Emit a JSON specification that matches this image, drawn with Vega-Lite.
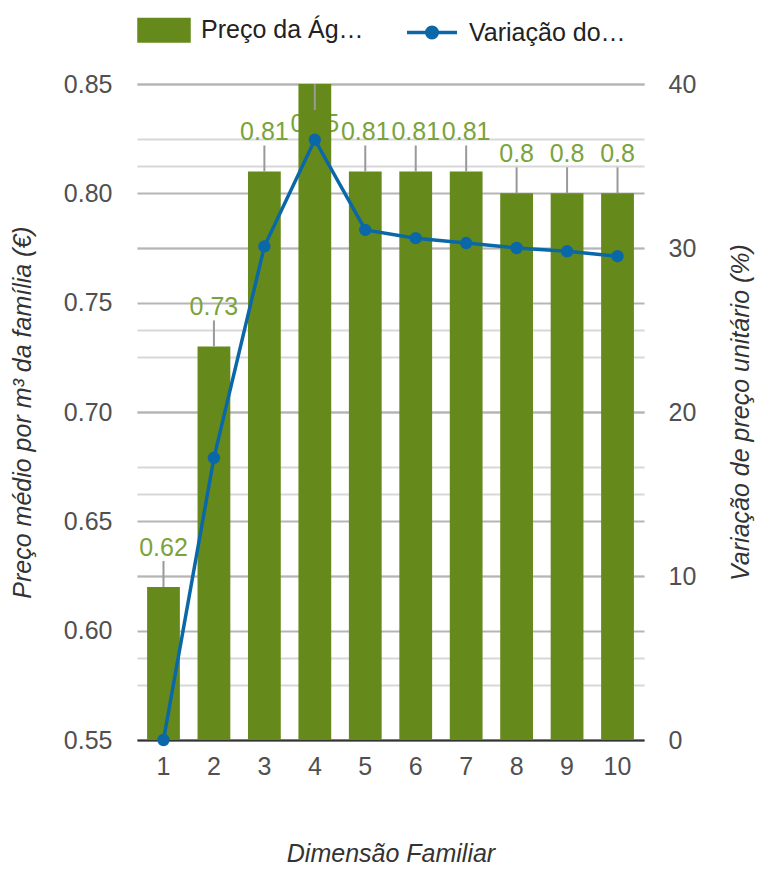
{
  "$schema": "https://vega.github.io/schema/vega-lite/v6.json",
  "width": 507,
  "height": 656,
  "autosize": "none",
  "padding": {"left": 137, "top": 84, "right": 119, "bottom": 132},
  "background": "white",
  "config": {
    "font": "Liberation Sans",
    "view": {"stroke": null},
    "axis": {
      "labelFont": "Liberation Sans",
      "labelFontSize": 25,
      "labelColor": "#505050",
      "titleFont": "Liberation Sans",
      "titleFontSize": 25,
      "titleFontStyle": "italic",
      "titleFontWeight": "normal",
      "titleColor": "#333333",
      "ticks": false,
      "domain": false
    },
    "legend": {
      "labelFont": "Liberation Sans",
      "labelFontSize": 25,
      "labelColor": "#222222",
      "labelLimit": 400,
      "orient": "top",
      "direction": "horizontal",
      "offset": 36,
      "padding": 0,
      "symbolSize": 2500,
      "symbolStrokeWidth": 3.5,
      "labelOffset": 10,
      "columnPadding": 36
    }
  },
  "data": {
    "values": [
      {"dim": "1", "price": 0.62, "var": 0},
      {"dim": "2", "price": 0.73, "var": 17.2},
      {"dim": "3", "price": 0.81, "var": 30.1},
      {"dim": "4", "price": 0.85, "var": 36.6},
      {"dim": "5", "price": 0.81, "var": 31.1},
      {"dim": "6", "price": 0.81, "var": 30.6},
      {"dim": "7", "price": 0.81, "var": 30.3},
      {"dim": "8", "price": 0.8, "var": 30.0},
      {"dim": "9", "price": 0.8, "var": 29.8},
      {"dim": "10", "price": 0.8, "var": 29.5}
    ]
  },
  "encoding": {
    "x": {
      "field": "dim",
      "type": "ordinal",
      "sort": null,
      "scale": {"domain": ["1", "2", "3", "4", "5", "6", "7", "8", "9", "10"], "paddingInner": 0.35, "paddingOuter": 0.2},
      "axis": {
        "title": "Dimensão Familiar",
        "labelAngle": 0,
        "labelPadding": 14,
        "titlePadding": 62,
        "domain": true,
        "domainColor": "#333333",
        "domainWidth": 2,
        "grid": false
      }
    }
  },
  "layer": [
    {
      "encoding": {
        "y": {
          "field": "price",
          "type": "quantitative",
          "scale": {"domain": [0.55, 0.85], "zero": false, "nice": false},
          "axis": {
            "orient": "left",
            "title": "Preço médio por m³ da família (€)",
            "values": [0.55, 0.575, 0.6, 0.625, 0.65, 0.675, 0.7, 0.725, 0.75, 0.775, 0.8, 0.825, 0.85],
            "labelExpr": "abs(round(datum.value*1000) % 50) < 1 ? format(datum.value, '.2f') : ''",
            "labelPadding": 25,
            "titlePadding": 28,
            "grid": true,
            "gridWidth": 2,
            "gridColor": {"condition": {"test": "abs(round(datum.value*1000) % 50) < 1", "value": "#b5b5b5"}, "value": "#d8d8d8"}
          }
        }
      },
      "layer": [
        {
          "transform": [{"filter": "datum.price < 0.85"}],
          "mark": {"type": "text", "fontSize": 25, "color": "#7aa33c", "baseline": "alphabetic", "dy": -31, "font": "Liberation Sans"},
          "encoding": {"text": {"field": "price", "type": "nominal"}}
        },
        {
          "transform": [{"filter": "datum.price >= 0.85"}],
          "mark": {"type": "text", "fontSize": 25, "color": "#7aa33c", "baseline": "alphabetic", "dy": 48, "font": "Liberation Sans"},
          "encoding": {"text": {"field": "price", "type": "nominal"}}
        },
        {
          "mark": {"type": "bar", "opacity": 1},
          "encoding": {
            "y2": {"datum": 0.55},
            "color": {
              "datum": "Preço da Ág…",
              "type": "nominal",
              "scale": {"domain": ["Preço da Ág…", "Variação do…"], "range": ["#658a1b", "#0b68a8"]},
              "legend": {
                "title": null,
                "symbolSize": 2500,
                "encode": {
                  "symbols": {
                    "update": {
                      "shape": {"signal": "datum.value === 'Preço da Ág…' ? 'M-1,-0.43H1V0.43H-1Z' : 'M-1,0H1M0.21,0A0.21,0.21,0,1,1,-0.21,0A0.21,0.21,0,1,1,0.21,0'"},
                      "size": {"value": 2500},
                      "strokeWidth": {"value": 3.5},
                      "fill": {"signal": "datum.value === 'Preço da Ág…' ? '#658a1b' : '#0b68a8'"},
                      "stroke": {"signal": "datum.value === 'Preço da Ág…' ? '#658a1b' : '#0b68a8'"},
                      "opacity": {"value": 1},
                      "fillOpacity": {"value": 1},
                      "strokeOpacity": {"value": 1}
                    }
                  }
                }
              }
            }
          }
        },
        {
          "transform": [{"filter": "datum.price < 0.85"}],
          "mark": {"type": "rule", "color": "#999999", "strokeWidth": 2, "y2Offset": -26},
          "encoding": {"y2": {"field": "price"}}
        },
        {
          "transform": [{"filter": "datum.price >= 0.85"}],
          "mark": {"type": "rule", "color": "#999999", "strokeWidth": 2, "y2Offset": 26},
          "encoding": {"y2": {"field": "price"}}
        }
      ]
    },
    {
      "encoding": {
        "y": {
          "field": "var",
          "type": "quantitative",
          "scale": {"domain": [0, 40], "nice": false},
          "axis": {
            "orient": "right",
            "title": "Variação de preço unitário (%)",
            "titleAngle": -90,
            "values": [0, 5, 10, 15, 20, 25, 30, 35, 40],
            "labelExpr": "datum.value % 10 === 0 ? format(datum.value, 'd') : ''",
            "labelPadding": 24,
            "titlePadding": 58,
            "grid": true,
            "gridWidth": 2,
            "gridColor": {"condition": {"test": "datum.value % 10 === 0", "value": "#b5b5b5"}, "value": "#d8d8d8"}
          }
        },
        "color": {
          "datum": "Variação do…",
          "type": "nominal",
          "legend": {
            "title": null,
            "symbolSize": 2500,
            "encode": {
              "symbols": {
                "update": {
                  "shape": {"signal": "datum.value === 'Preço da Ág…' ? 'M-1,-0.43H1V0.43H-1Z' : 'M-1,0H1M0.21,0A0.21,0.21,0,1,1,-0.21,0A0.21,0.21,0,1,1,0.21,0'"},
                  "size": {"value": 2500},
                  "strokeWidth": {"value": 3.5},
                  "fill": {"signal": "datum.value === 'Preço da Ág…' ? '#658a1b' : '#0b68a8'"},
                  "stroke": {"signal": "datum.value === 'Preço da Ág…' ? '#658a1b' : '#0b68a8'"},
                  "opacity": {"value": 1},
                  "fillOpacity": {"value": 1},
                  "strokeOpacity": {"value": 1}
                }
              }
            }
          }
        }
      },
      "layer": [
        {"mark": {"type": "line", "strokeWidth": 3.5}},
        {"mark": {"type": "circle", "size": 154, "opacity": 1}}
      ]
    }
  ],
  "resolve": {"scale": {"y": "independent"}}
}
